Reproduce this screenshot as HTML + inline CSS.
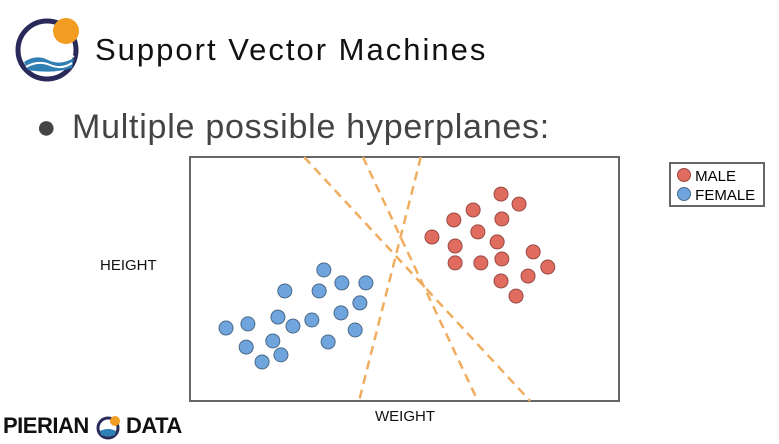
<!DOCTYPE html>
<html><head><meta charset="utf-8"><style>
body{margin:0;width:779px;height:444px;background:#fff;overflow:hidden;font-family:"Liberation Sans",sans-serif;position:relative}
.t{position:absolute;white-space:nowrap}
</style></head><body>
<svg style="position:absolute;left:14px;top:12px" width="70" height="72" viewBox="0 0 70 72">
<circle cx="33" cy="38" r="29" fill="none" stroke="#2a2a5a" stroke-width="5"/>
<path d="M10 50 Q22 42 34 48 T60 46 L58 56 Q40 62 14 58Z" fill="#2f7fb5"/>
<path d="M10 48 Q22 40 34 46 T60 44" fill="none" stroke="#fff" stroke-width="2"/>
<path d="M12 55 Q24 48 36 53 T58 51" fill="none" stroke="#fff" stroke-width="2"/>
<circle cx="52" cy="19" r="13" fill="#f39c22"/>
</svg>
<div class="t" style="left:95px;top:32px;font-size:31px;color:#111;letter-spacing:2px">Support Vector Machines</div>
<div class="t" style="left:36px;top:108px;font-size:34px;color:#444">●</div>
<div class="t" style="left:72px;top:108px;font-size:34px;color:#444;letter-spacing:0.75px">Multiple possible hyperplanes:</div>
<div class="t" style="left:100px;top:257px;font-size:15px;color:#111">HEIGHT</div>
<div class="t" style="left:375px;top:408px;font-size:15px;color:#111">WEIGHT</div>
<div class="t" style="left:3px;top:413px;font-size:22px;font-weight:bold;color:#111;letter-spacing:-0.5px">PIERIAN <span style="display:inline-block;width:26px"></span> DATA</div>
<svg style="position:absolute;left:95px;top:413px" width="28" height="28"><circle cx="13" cy="15" r="10" fill="none" stroke="#2a2a5a" stroke-width="3"/><path d="M5 18 Q13 14 21 18 L20 22 Q13 25 6 22Z" fill="#2f7fb5"/><circle cx="20" cy="8" r="5" fill="#f39c22"/></svg>
<svg id="chart" style="position:absolute;left:0;top:0" width="779" height="444"></svg>
<div style="position:absolute;left:669px;top:162px;width:96px;height:45px;border:2px solid #666;box-sizing:border-box">
<div class="t" style="left:6px;top:4px;font-size:15px"><span style="display:inline-block;width:12px;height:12px;border-radius:50%;background:#e06b5f;border:1px solid #9a4a44;vertical-align:-1px"></span> MALE</div>
<div class="t" style="left:6px;top:23px;font-size:15px"><span style="display:inline-block;width:12px;height:12px;border-radius:50%;background:#6fa5dc;border:1px solid #4a6a8a;vertical-align:-1px"></span> FEMALE</div>
</div>
<script>
const femaleX=[8.4,13.5,13.1,16.8,19.3,21.2,20.5,24.0,22.1,28.4,30.1,31.2,32.2,35.2,35.4,38.5,39.6,41.0];
const femaleY=[29.9,31.6,22.1,16.0,24.6,18.9,34.4,30.7,45.1,33.2,45.1,53.7,24.2,36.1,48.4,29.1,40.2,48.4];
const maleX=[56.4,61.5,61.8,61.8,66.0,67.1,67.8,72.5,72.7,71.6,72.7,72.5,76.7,76.0,80.0,78.8,83.4];
const maleY=[67.2,74.2,63.5,56.6,78.3,69.3,56.6,84.8,74.6,65.2,58.2,49.2,80.7,43.0,61.1,51.2,54.9];
const lineTopX=[26.6,40.3,53.8];
const lineBottomX=[79.3,67.1,39.4];
const L=190,R=619,T=157,B=401;
const xs=v=>L+v*(R-L)/100, ys=v=>B-v*(B-T)/100;
const svg=document.getElementById('chart'),NS='http://www.w3.org/2000/svg';
function mk(t,a){const e=document.createElementNS(NS,t);for(const k in a)e.setAttribute(k,a[k]);svg.appendChild(e);return e;}
const frame=mk('rect',{x:L,y:T,width:R-L,height:B-T,fill:'#fff',stroke:'#666','stroke-width':2});


lineTopX.forEach((tx,i)=>{
 const l=mk('line',{x1:xs(tx),y1:ys(100),x2:xs(lineBottomX[i]),y2:ys(0),stroke:'#f0ad60','stroke-width':2.5,'stroke-dasharray':'9,6'});
 
 
});
femaleX.forEach((x,i)=>{
 const c=mk('circle',{cx:xs(x),cy:ys(femaleY[i]),r:7,fill:'#6fa5dc',stroke:'#4a6a8a','stroke-width':1});
 
 
});
maleX.forEach((x,i)=>{
 const c=mk('circle',{cx:xs(x),cy:ys(maleY[i]),r:7,fill:'#e06b5f',stroke:'#9a4a44','stroke-width':1});
 
 
});
</script>
</body></html>
